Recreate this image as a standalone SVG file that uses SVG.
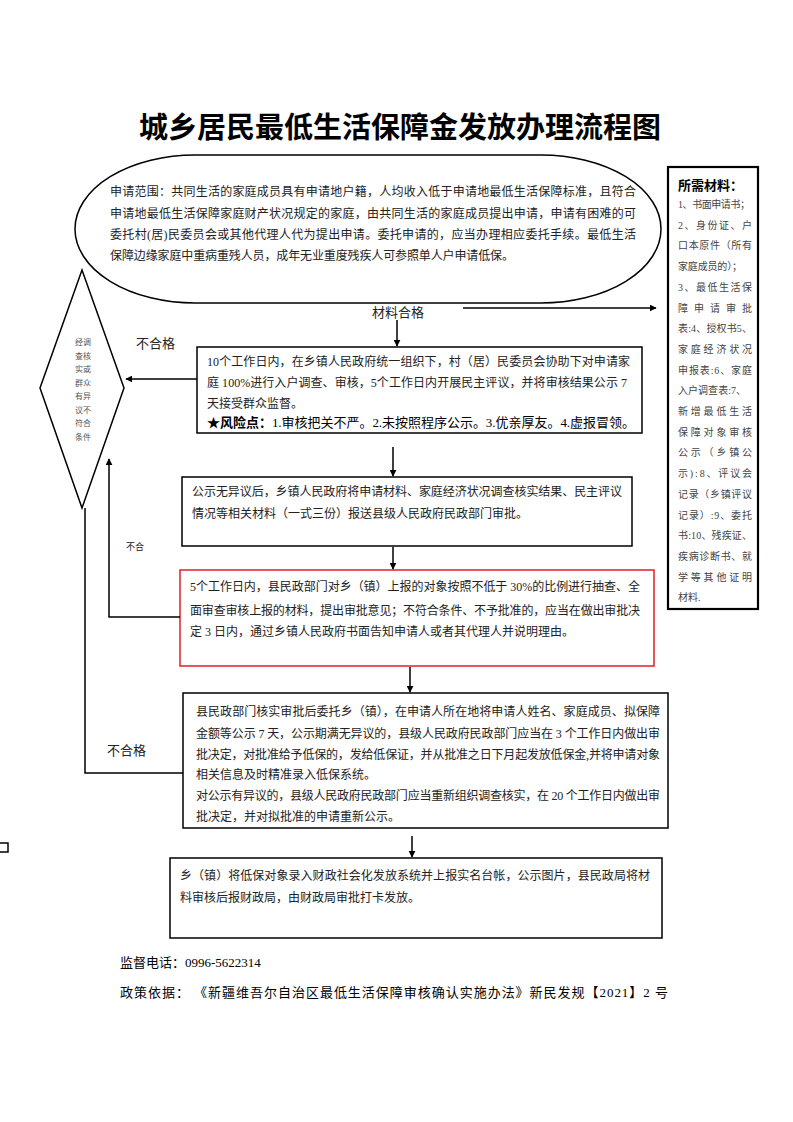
<svg xmlns="http://www.w3.org/2000/svg" width="793" height="1122" viewBox="0 0 793 1122">
<defs>
<marker id="ah" viewBox="0 0 10 10" refX="9" refY="5" markerWidth="7" markerHeight="7" markerUnits="userSpaceOnUse" orient="auto"><path d="M0 0 L10 5 L0 10 Z" fill="#000"/></marker>
<style>
.t{font-family:"Liberation Serif","Noto Sans CJK SC",serif;fill:#222;}
.b{font-size:12px;}
.s{font-size:10px;fill:#444;}
.box{fill:#fff;stroke:#000;stroke-width:1.5;}
.ln{fill:none;stroke:#000;stroke-width:1.5;}
</style>
</defs>
<rect width="793" height="1122" fill="#fff"/>
<text x="400" y="138" text-anchor="middle" class="t" style="font-size:29px;font-weight:bold;fill:#000">城乡居民最低生活保障金发放办理流程图</text>

<g id="scope">
<rect x="75" y="155" width="586" height="148" rx="120" ry="74" class="box"/>
<text class="t b" x="110" y="196" textLength="526">申请范围：共同生活的家庭成员具有申请地户籍，人均收入低于申请地最低生活保障标准，且符合</text>
<text class="t b" x="110" y="218" textLength="526">申请地最低生活保障家庭财产状况规定的家庭，由共同生活的家庭成员提出申请，申请有困难的可</text>
<text class="t b" x="110" y="239" textLength="526">委托村(居)民委员会或其他代理人代为提出申请。委托申请的，应当办理相应委托手续。最低生活</text>
<text class="t b" x="110" y="260" textLength="404">保障边缘家庭中重病重残人员，成年无业重度残疾人可参照单人户申请低保。</text>
</g>

<g id="materials">
<rect x="668" y="167" width="90" height="442" fill="#fff" stroke="#000" stroke-width="2.2"/>
<text class="t" x="678" y="190" style="font-size:13px;font-weight:bold;fill:#000">所需材料：</text>
<g class="t s">
<text x="678" y="208" textLength="72">1、书面申请书；</text>
<text x="678" y="228.7" textLength="74">2、身份证、户</text>
<text x="678" y="249.4" textLength="74">口本原件（所有</text>
<text x="678" y="270.1" textLength="64">家庭成员的）；</text>
<text x="678" y="290.8" textLength="74">3、最低生活保</text>
<text x="678" y="311.5" textLength="74">障申请审批</text>
<text x="678" y="332.2" textLength="74">表:4、授权书5、</text>
<text x="678" y="352.9" textLength="74">家庭经济状况</text>
<text x="678" y="373.6" textLength="74">申报表:6、家庭</text>
<text x="678" y="394.3" textLength="68">入户调查表:7、</text>
<text x="678" y="415" textLength="74">新增最低生活</text>
<text x="678" y="435.7" textLength="74">保障对象审核</text>
<text x="678" y="456.4" textLength="74">公示（乡镇公</text>
<text x="678" y="477.1" textLength="74">示):8、评议会</text>
<text x="678" y="497.8" textLength="74">记录（乡镇评议</text>
<text x="678" y="518.5" textLength="74">记录）:9、委托</text>
<text x="678" y="539.2" textLength="74">书:10、残疾证、</text>
<text x="678" y="559.9" textLength="74">疾病诊断书、就</text>
<text x="678" y="580.6" textLength="74">学等其他证明</text>
<text x="678" y="601.3">材料.</text>
</g>
</g>

<g id="check">
<path d="M82 270 L124 388 L82 508 L40 388 Z" class="box"/>
<g class="t" style="font-size:8px;fill:#555" text-anchor="middle">
<text x="83" y="345">经调</text>
<text x="83" y="358.5">查核</text>
<text x="83" y="372">实或</text>
<text x="83" y="385.5">群众</text>
<text x="83" y="399">有异</text>
<text x="83" y="412.5">议不</text>
<text x="83" y="426">符合</text>
<text x="83" y="439.5">条件</text>
</g>
</g>

<g id="survey">
<rect x="197" y="347" width="445" height="86" class="box"/>
<text class="t b" x="207" y="366" textLength="423">10个工作日内，在乡镇人民政府统一组织下，村（居）民委员会协助下对申请家</text>
<text class="t b" x="207" y="387" textLength="420">庭 100%进行入户调查、审核，5个工作日内开展民主评议，并将审核结果公示 7</text>
<text class="t b" x="207" y="408">天接受群众监督。</text>
<text class="t" x="207" y="427" style="font-size:13px;fill:#000" textLength="428"><tspan font-weight="bold">★风险点：</tspan>1.审核把关不严。2.未按照程序公示。3.优亲厚友。4.虚报冒领。</text>
</g>

<g id="report">
<rect x="182" y="477" width="450" height="69" class="box"/>
<text class="t b" x="192" y="496" textLength="430">公示无异议后，乡镇人民政府将申请材料、家庭经济状况调查核实结果、民主评议</text>
<text class="t b" x="192" y="518">情况等相关材料（一式三份）报送县级人民政府民政部门审批。</text>
</g>

<g id="review">
<rect x="180" y="570" width="474" height="96" fill="#fff" stroke="#e02020" stroke-width="1.5"/>
<text class="t b" x="190" y="591" textLength="450">5个工作日内，县民政部门对乡（镇）上报的对象按照不低于 30%的比例进行抽查、全</text>
<text class="t b" x="190" y="615" textLength="450">面审查审核上报的材料，提出审批意见；不符合条件、不予批准的，应当在做出审批决</text>
<text class="t b" x="190" y="636">定 3 日内，通过乡镇人民政府书面告知申请人或者其代理人并说明理由。</text>
</g>

<g id="publicize">
<rect x="183" y="693" width="485" height="135" class="box"/>
<text class="t b" x="196" y="716" textLength="464">县民政部门核实审批后委托乡（镇），在申请人所在地将申请人姓名、家庭成员、拟保障</text>
<text class="t b" x="196" y="738" textLength="464">金额等公示 7 天，公示期满无异议的，县级人民政府民政部门应当在 3 个工作日内做出审</text>
<text class="t b" x="196" y="759" textLength="464">批决定，对批准给予低保的，发给低保证，并从批准之日下月起发放低保金,并将申请对象</text>
<text class="t b" x="196" y="779">相关信息及时精准录入低保系统。</text>
<text class="t b" x="196" y="800" textLength="464">对公示有异议的，县级人民政府民政部门应当重新组织调查核实，在 20 个工作日内做出审</text>
<text class="t b" x="196" y="821">批决定，并对拟批准的申请重新公示。</text>
</g>

<g id="payment">
<rect x="170" y="858" width="492" height="80" class="box"/>
<text class="t b" x="180" y="880" textLength="470">乡（镇）将低保对象录入财政社会化发放系统并上报实名台帐，公示图片，县民政局将材</text>
<text class="t b" x="180" y="902">料审核后报财政局，由财政局审批打卡发放。</text>
</g>

<g id="connectors">
<path d="M397 320 V346" class="ln" marker-end="url(#ah)"/>
<path d="M463 308 H656" class="ln" marker-end="url(#ah)"/>
<path d="M393 447 V476" class="ln" marker-end="url(#ah)"/>
<path d="M393 547 V569" class="ln" marker-end="url(#ah)"/>
<path d="M410 667 V692" class="ln" marker-end="url(#ah)"/>
<path d="M412 836 V857" class="ln" marker-end="url(#ah)"/>
<path d="M197 379 H126" class="ln" marker-end="url(#ah)"/>
<path d="M180 617 H109 V459" class="ln" marker-end="url(#ah)"/>
<path d="M183 773 H85 V508" class="ln"/>
<path d="M0 843 H8 V852 H0" class="ln"/>
</g>

<g id="labels" class="t">
<text x="398" y="317" text-anchor="middle" style="font-size:13px">材料合格</text>
<text x="136" y="348" style="font-size:13px">不合格</text>
<text x="126" y="550" style="font-size:9px">不合</text>
<text x="107" y="755" style="font-size:13px">不合格</text>
<text x="120" y="967" style="font-size:13px;fill:#000">监督电话：0996-5622314</text>
<text x="120" y="997" style="font-size:13px;fill:#000" textLength="548">政策依据：  《新疆维吾尔自治区最低生活保障审核确认实施办法》新民发规【2021】2 号</text>
</g>
</svg>
